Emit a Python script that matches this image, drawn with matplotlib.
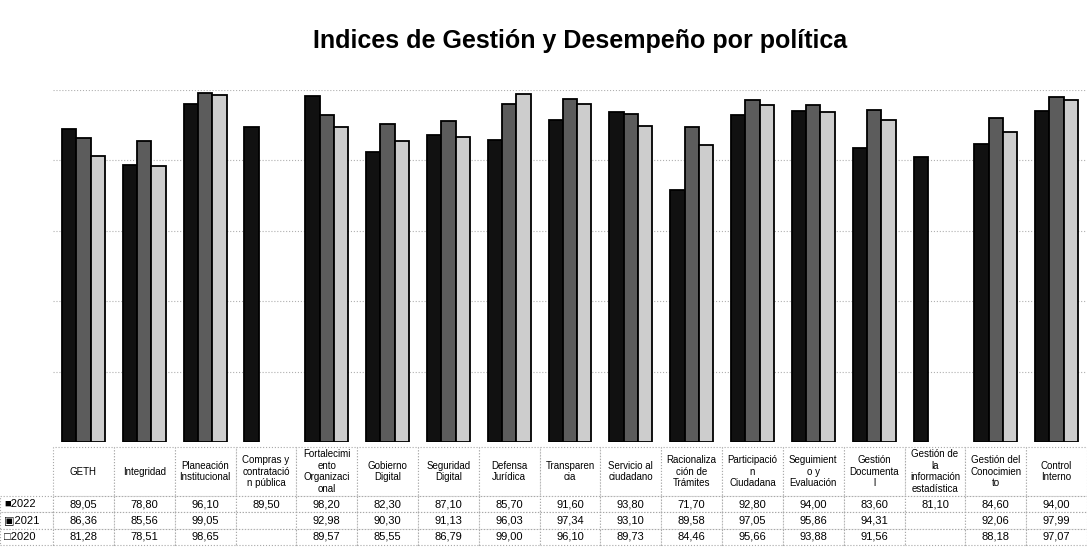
import matplotlib.pyplot as plt
import numpy as np

politicas = ["GETH", "Integridad", "Planeación\nInstitucional", "Compras y\ncontratació\nn pública",
             "Fortalecimi\nento\nOrganizaci\nonal", "Gobierno\nDigital", "Seguridad\nDigital",
             "Defensa\nJurídica", "Transparen\ncia", "Servicio al\nciudadano",
             "Racionaliza\nción de\nTrámites", "Participació\nn\nCiudadana", "Seguimient\no y\nEvaluación",
             "Gestión\nDocumenta\nl", "Gestión de\nla\ninformación\nestadística",
             "Gestión del\nConocimien\nto", "Control\nInterno"]
anios = ["2022", "2021", "2020"]
v2022 = [89.05, 78.80, 96.10, 89.50, 98.20, 82.30, 87.10, 85.70, 91.60, 93.80, 71.70, 92.80, 94.00, 83.60, 81.10, 84.60, 94.00]
v2021 = [86.36, 85.56, 99.05, None, 92.98, 90.30, 91.13, 96.03, 97.34, 93.10, 89.58, 97.05, 95.86, 94.31, None, 92.06, 97.99]
v2020 = [81.28, 78.51, 98.65, None, 89.57, 85.55, 86.79, 99.00, 96.10, 89.73, 84.46, 95.66, 93.88, 91.56, None, 88.18, 97.07]

series = [v2022, v2021, v2020]
colores = ['#111111', '#5c5c5c', '#cdcdcd']
marcas = ['■', '▣', '□']

plt.rcParams['font.family'] = ['Liberation Sans', 'DejaVu Sans']

fig = plt.figure(figsize=(10.87, 5.48), dpi=100)
ax = fig.add_axes([0.0488, 0.1934, 0.9512, 0.6423])

x = np.arange(len(politicas))
ancho = 0.235
for i, (vals, c) in enumerate(zip(series, colores)):
    alturas = np.array([np.nan if v is None else v for v in vals], dtype=float)
    ax.bar(x + (i - 1) * ancho, alturas, ancho, color=c, edgecolor='black', linewidth=1.3, zorder=3)

ax.set_xlim(-0.5, len(politicas) - 0.5)
ax.set_ylim(0, 100)
ax.set_yticks([20, 40, 60, 80, 100])
ax.yaxis.grid(True, linestyle=':', color='#b0b0b0', linewidth=0.8, zorder=0)
ax.tick_params(left=False, bottom=False, labelleft=False, labelbottom=False)
for s in ax.spines.values():
    s.set_visible(False)

# tabla de datos debajo del grafico
def fmt(v):
    return "" if v is None else f"{v:.2f}".replace(".", ",")

celdas = []
for nombre, vals, m in zip(anios, series, marcas):
    celdas.append([m + nombre] + [fmt(v) for v in vals])

w_lbl = 53 / 1034
anchos = [w_lbl] + [1 / len(politicas)] * len(politicas)
tabla = ax.table(cellText=celdas, colLabels=[""] + politicas, colWidths=anchos,
                 cellLoc='center', bbox=[-w_lbl, -0.2926, 1 + w_lbl, 0.278])
tabla.auto_set_font_size(False)
for (r, c), cell in tabla.get_celld().items():
    cell.set_edgecolor('#a8a8a8')
    cell.set_linestyle(':')
    cell.set_linewidth(0.8)
    if r == 0:
        cell.set_height(3.0)
        cell.get_text().set_fontsize(7)
        if c == 0:
            cell.visible_edges = ''
    else:
        cell.set_height(1.0)
        cell.get_text().set_fontsize(8)
        if c == 0:
            cell.get_text().set_ha('left')
            cell.PAD = 0.08

fig.text(0.534, 0.925, "Indices de Gestión y Desempeño por política", ha='center', va='center',
         fontsize=18, fontweight='bold')

plt.savefig("out.png", dpi=100)
